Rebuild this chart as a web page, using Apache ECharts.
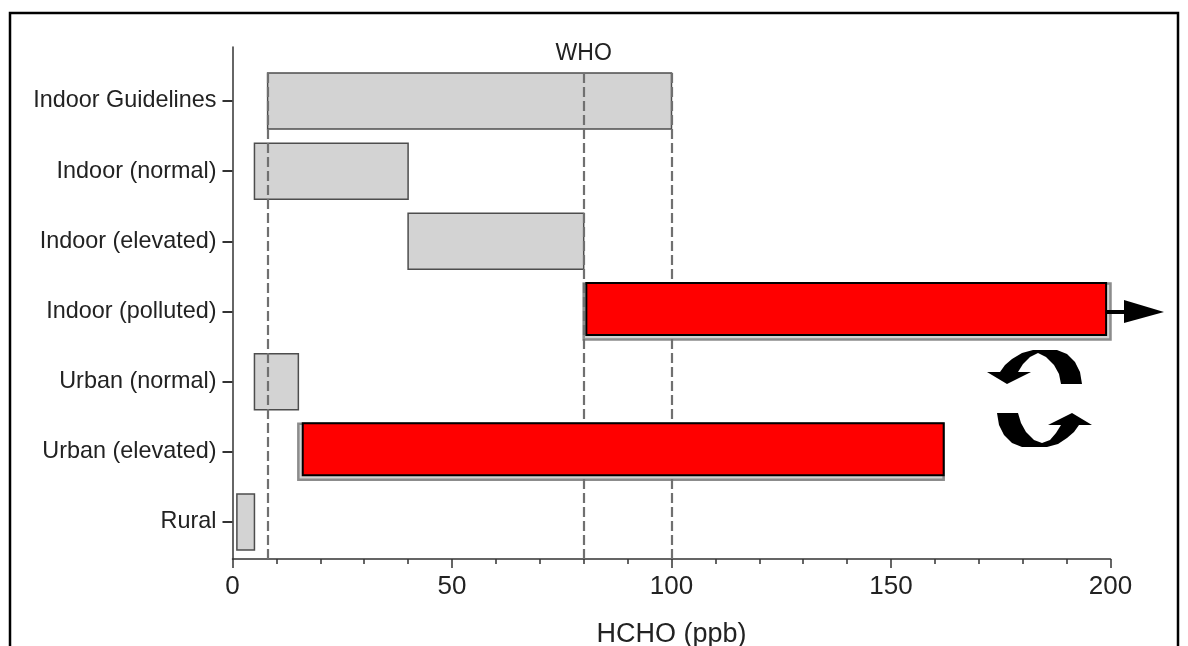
<!DOCTYPE html>
<html><head><meta charset="utf-8">
<style>html,body{margin:0;padding:0;background:#fff}#c{width:1188px;height:646px}</style>
<script src="https://cdn.jsdelivr.net/npm/echarts@6/dist/echarts.min.js"></script>
</head><body><div id="c"></div>
<script>
var categories = ['Rural','Urban (elevated)','Urban (normal)','Indoor (polluted)','Indoor (elevated)','Indoor (normal)','Indoor Guidelines'];
var rangeStart = [1,15,5,80,40,5,8];
var rangeEnd   = [5,162,15,200,80,40,100];
var redRows  = [1,3];
var redStart = [16,80.6];
var redEnd   = [162,199];
var whoLines = [8,80,100];
var xTicks = [0,50,100,150,200];

var grayData = categories.map(function(c,i){return [rangeStart[i],rangeEnd[i],i];});
var redData = redRows.map(function(r,i){return [redStart[i],redEnd[i],r];});
var rowTicks = categories.map(function(c,i){return i;});
var Y_MIN=-0.527, Y_MAX=6.77, LINE_TOP=6.4;

function barItem(h,off,style,altStyle){
  return function(params,api){
    var row=api.value(2);
    var a=api.coord([api.value(0),row]), b=api.coord([api.value(1),row]);
    var s=(altStyle && redRows.indexOf(row)>=0)?altStyle:style;
    return {type:'rect',shape:{x:a[0],y:a[1]-h/2+off,width:b[0]-a[0],height:h},style:s};
  };
}
var topArrow=[[1082,384],[1080,372],[1075,362],[1067,354],[1057,350],[1033,350],[1022,353],[1012,359],[1005,365],[1000,372],[987,372],[1007,384],[1031,372],[1018,372],[1023,364],[1030,357],[1038,353],[1046,357],[1054,365],[1059,374],[1061,384]];
var bottomArrow=[[997,413],[999,425],[1004,435],[1012,443],[1022,447],[1047,447],[1058,444],[1067,438],[1074,432],[1079,425],[1092,425],[1072,413],[1048,425],[1061,425],[1056,433],[1050,440],[1042,443],[1034,440],[1026,432],[1021,423],[1018,413]];
var FONT='"Liberation Sans",Arial,sans-serif';
var chart=echarts.init(document.getElementById('c'),null,{renderer:'canvas'});
chart.setOption({
  animation:false,backgroundColor:'#fff',
  grid:{left:232.5,right:77.5,top:47,bottom:87,containLabel:false,outerBoundsMode:'none'},
  xAxis:{type:'value',min:0,max:200,interval:50,
    name:'HCHO (ppb)',nameLocation:'middle',nameGap:62,
    nameTextStyle:{fontFamily:FONT,fontSize:27,color:'#222'},
    axisLine:{show:true,onZero:false,lineStyle:{color:'#333',width:1.5}},
    axisTick:{show:true,length:9,lineStyle:{color:'#333',width:1.5}},
    minorTick:{show:true,splitNumber:5,length:5,lineStyle:{color:'#333',width:1.5}},
    splitLine:{show:false},minorSplitLine:{show:false},
    axisLabel:{fontFamily:FONT,fontSize:26,color:'#222',margin:15,customValues:xTicks}
  },
  yAxis:{type:'value',min:Y_MIN,max:Y_MAX,
    axisLine:{show:true,onZero:false,lineStyle:{color:'#333',width:1.5}},
    axisTick:{show:true,length:10,customValues:rowTicks,lineStyle:{color:'#333',width:2}},
    splitLine:{show:false},
    axisLabel:{fontFamily:FONT,fontSize:23.4,color:'#222',margin:16,padding:[5,0,0,0],customValues:rowTicks,
      formatter:function(v){return categories[Math.round(v)]||'';}}
  },
  series:[
    {type:'custom',name:'Range',coordinateSystem:'cartesian2d',encode:{x:[0,1],y:2},data:grayData,z:2,clip:false,
     renderItem:barItem(56,0,{fill:'#d3d3d3',stroke:'#4d4d4d',lineWidth:1.5},{fill:'#d3d3d3',stroke:'#8c8c8c',lineWidth:2.5}),
     markLine:{silent:true,symbol:'none',z:5,label:{show:false},
       lineStyle:{color:'#707070',type:[10,4],width:2.2},
       data:whoLines.map(function(x){return [{coord:[x,LINE_TOP]},{coord:[x,Y_MIN]}];})},
     markPoint:{silent:true,symbol:'circle',symbolSize:0,
       label:{show:true,position:'inside',formatter:'WHO',fontFamily:FONT,fontSize:23,color:'#222'},
       data:[{coord:[80,6.68]}]}
    },
    {type:'custom',name:'Elevated',coordinateSystem:'cartesian2d',encode:{x:[0,1],y:2},data:redData,z:10,clip:false,
     renderItem:barItem(52,-2.5,{fill:'#ff0000',stroke:'#000',lineWidth:2})}
  ],
  graphic:[
    {type:'rect',z:0,shape:{x:10,y:13,width:1168,height:700},style:{fill:'none',stroke:'#000',lineWidth:2.5}},
    {type:'line',z:20,shape:{x1:1107,y1:312,x2:1126,y2:312},style:{stroke:'#000',lineWidth:4}},
    {type:'polygon',z:20,shape:{points:[[1124,300],[1164,312],[1124,323]]},style:{fill:'#000'}},
    {type:'polygon',z:20,shape:{points:topArrow},style:{fill:'#000'}},
    {type:'polygon',z:20,shape:{points:bottomArrow},style:{fill:'#000'}}
  ]
});
</script></body></html>
